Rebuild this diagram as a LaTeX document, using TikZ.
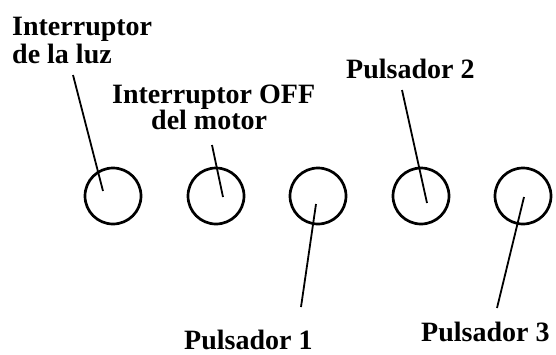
\documentclass[tikz,border=0pt]{standalone}
\usepackage{fontspec}
\setmainfont{Liberation Serif}
\begin{document}
\begin{tikzpicture}[x=1pt,y=-1pt,
  knob/.style={circle,draw,line width=2.7pt,minimum size=56pt,inner sep=0pt},
  lbl/.style={font=\fontsize{28}{29}\selectfont\bfseries,inner sep=0pt,anchor=base west},
  lead/.style={line width=1.8pt}]
\useasboundingbox[fill=white] (0,0) rectangle (556,354);
% knobs
\node[knob] (c1) at (113,196) {};
\node[knob] (c2) at (216,196) {};
\node[knob] (c3) at (318,196) {};
\node[knob] (c4) at (421,196) {};
\node[knob] (c5) at (523,196) {};
% labels
\node[lbl] (l1a) at (12,35) {Interruptor};
\node[lbl] (l1b) at (12,63) {de la luz};
\node[lbl] (l2a) at (112,103) {Interruptor OFF};
\node[lbl] (l2b) at (151,129) {del motor};
\node[lbl] (l4) at (346,78) {Pulsador 2};
\node[lbl] (l3) at (184,349) {Pulsador 1};
\node[lbl] (l5) at (421,341) {Pulsador 3};
% leader ends
\coordinate (t1) at (73,75);   \coordinate (e1) at (103,191);
\coordinate (t2) at (212,145); \coordinate (e2) at (223,197);
\coordinate (t3) at (301,307); \coordinate (e3) at (316,204);
\coordinate (t4) at (402,90);  \coordinate (e4) at (427,203);
\coordinate (t5) at (497,308); \coordinate (e5) at (524,197);
\draw[lead] (t1) -- (e1);
\draw[lead] (t2) -- (e2);
\draw[lead] (t3) -- (e3);
\draw[lead] (t4) -- (e4);
\draw[lead] (t5) -- (e5);
\end{tikzpicture}
\end{document}
